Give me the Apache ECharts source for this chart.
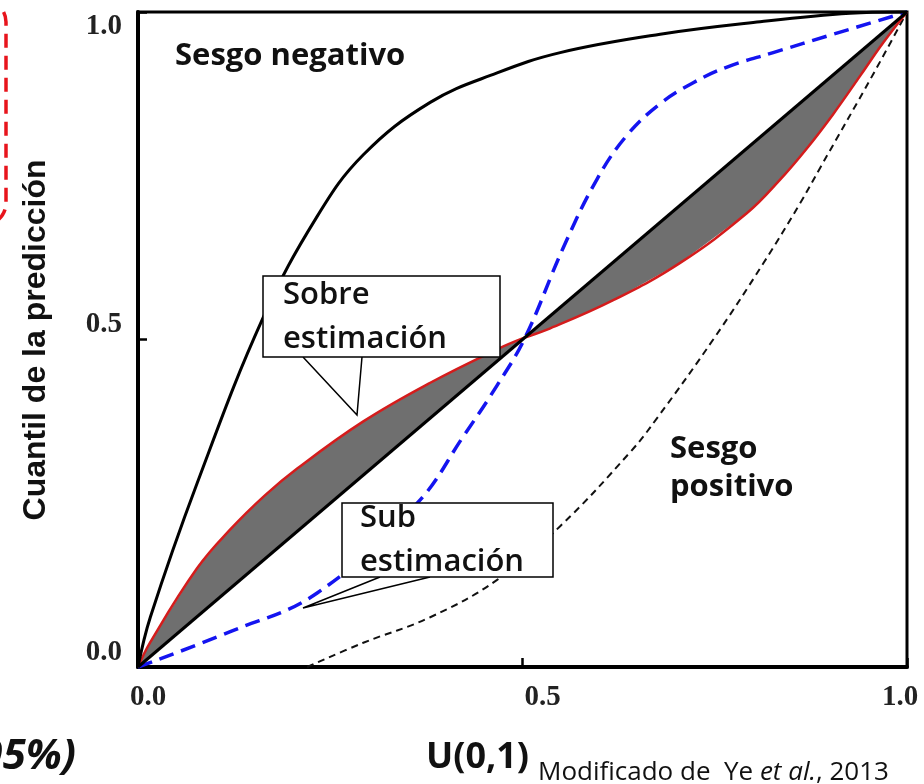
<!DOCTYPE html>
<html><head><meta charset="utf-8">
<script src="https://cdn.jsdelivr.net/npm/echarts@6/dist/echarts.min.js"></script>
<style>html,body{margin:0;padding:0;background:#fff}#c{width:924px;height:784px}</style>
</head><body><div id="c"></div>
<script>
// ---- data ----
const tickValues = [0, 0.5, 1];
const diagX = [0, 1];
const diagY = [0, 1];
// negative skew (solid black, upper curve)
const negX = [0, 0.016, 0.077, 0.163, 0.233, 0.293, 0.38, 0.467, 0.549, 0.679, 0.809, 0.926, 1];
const negY = [0, 0.076, 0.281, 0.534, 0.688, 0.782, 0.862, 0.907, 0.938, 0.966, 0.985, 0.998, 1];
// over / under estimation (red)
const redX = [0, 0.016, 0.077, 0.12, 0.165, 0.207, 0.293, 0.38, 0.467, 0.503, 0.532, 0.618, 0.705, 0.792, 0.835, 0.87, 0.904, 0.94, 0.969, 1];
const redY = [0, 0.038, 0.151, 0.210, 0.262, 0.303, 0.375, 0.434, 0.485, 0.503, 0.515, 0.560, 0.617, 0.693, 0.744, 0.792, 0.844, 0.904, 0.953, 1];
// blue dashed S-curve
const blueX = [0, 0.12, 0.233, 0.363, 0.423, 0.467, 0.503, 0.553, 0.597, 0.636, 0.679, 0.722, 0.766, 0.826, 0.904, 1];
const blueY = [0, 0.054, 0.113, 0.250, 0.352, 0.430, 0.502, 0.640, 0.745, 0.812, 0.860, 0.892, 0.916, 0.938, 0.966, 1];
// positive skew (black dashed)
const posX = [0.22, 0.293, 0.38, 0.467, 0.549, 0.64, 0.675, 0.748, 0.813, 0.861, 0.887, 0.956, 1];
const posY = [0, 0.037, 0.076, 0.133, 0.215, 0.328, 0.380, 0.500, 0.616, 0.708, 0.762, 0.905, 1];

function pairs(xs, ys) { return xs.map((x, i) => [x, ys[i]]); }

// smooth curve drawn by a custom series, positions from the axes' scales (api.coord)
function curve(name, xs, ys, lineStyle, z) {
  return {
    name: name, type: 'custom', data: pairs(xs, ys), z: z, silent: true,
    renderItem: function (params, api) {
      if (params.dataIndex !== 0) return null;
      const pts = xs.map((x, i) => api.coord([x, ys[i]]));
      return { type: 'polyline', shape: { points: pts, smooth: 0.4 },
        style: Object.assign({ fill: null, lineCap: 'butt', lineJoin: 'round' }, lineStyle) };
    }
  };
}

const chart = echarts.init(document.getElementById('c'), null, { renderer: 'canvas' });
const serif = '"Liberation Serif", "Times New Roman", serif';
const sans = '"Open Sans", "Noto Sans", sans-serif';
const arial = '"Liberation Sans", Arial, sans-serif';
const tickFont = { fontFamily: serif, fontWeight: 'bold', fontSize: 29, color: '#222' };

const option = {
  animation: false,
  backgroundColor: '#fff',
  grid: { left: 138, right: 17, top: 12, bottom: 117, show: true, borderColor: '#000', borderWidth: 3, backgroundColor: 'transparent' },
  xAxis: {
    type: 'value', min: 0, max: 1, interval: 0.5,
    splitLine: { show: false },
    axisLine: { show: true, onZero: false, lineStyle: { color: '#000', width: 4 } },
    axisTick: { show: true, inside: true, length: 9, lineStyle: { color: '#000', width: 2.5 } },
    axisLabel: Object.assign({ margin: 16,
      formatter: v => (v === 0 ? '{a|' : v === 1 ? '{c|' : '{b|') + v.toFixed(1) + '}',
      rich: {
        a: Object.assign({ padding: [0, 0, 0, 20] }, tickFont),
        b: Object.assign({ padding: [0, 0, 0, 40] }, tickFont),
        c: Object.assign({ padding: [0, 14, 0, 0] }, tickFont)
      } }, tickFont)
  },
  yAxis: {
    type: 'value', min: 0, max: 1, interval: 0.5,
    splitLine: { show: false },
    axisLine: { show: true, onZero: false, lineStyle: { color: '#000', width: 4 } },
    axisTick: { show: true, inside: true, length: 9, lineStyle: { color: '#000', width: 2.5 } },
    axisLabel: Object.assign({ margin: 16, verticalAlign: 'bottom', verticalAlignMaxLabel: 'top',
      formatter: v => v.toFixed(1) }, tickFont)
  },
  series: [
    { name: 'band', type: 'custom', data: pairs(redX, redY), silent: true, z: 1,
      renderItem: function (params, api) {
        if (params.dataIndex !== 0) return null;
        const upper = redX.map((x, i) => api.coord([x, redY[i]]));
        const lower = redX.slice().reverse().map(x => api.coord([x, x]));
        return { type: 'polygon', shape: { points: upper.concat(lower) },
          style: { fill: '#6f6f6f', stroke: null } };
      } },
    curve('positivo', posX, posY, { stroke: '#111', lineWidth: 2, lineDash: [7, 5] }, 3),
    curve('azul', blueX, blueY, { stroke: '#1414f0', lineWidth: 3.5, lineDash: [15, 8] }, 4),
    curve('rojo', redX, redY, { stroke: '#d41c1c', lineWidth: 2.5 }, 5),
    { name: 'diagonal', type: 'line', data: pairs(diagX, diagY), symbol: 'none',
      lineStyle: { color: '#000', width: 3 }, z: 6 },
    curve('negativo', negX, negY, { stroke: '#000', lineWidth: 3 }, 6)
  ],
  graphic: [
    // Sobre estimación callout
    { type: 'polyline', z: 100, shape: { points: [[303, 357], [357, 415], [362, 357]] },
      style: { stroke: '#000', lineWidth: 1.5, fill: null } },
    { type: 'rect', z: 100, shape: { x: 263, y: 276, width: 237, height: 81 },
      style: { fill: '#fff', stroke: '#000', lineWidth: 1.5 } },
    { type: 'text', z: 101, x: 283, y: 295, style: { text: 'Sobre', font: '600 31px ' + sans, fill: '#111', verticalAlign: 'middle' } },
    { type: 'text', z: 101, x: 283, y: 339, style: { text: 'estimación', font: '600 31px ' + sans, fill: '#111', verticalAlign: 'middle' } },
    // Sub estimación callout
    { type: 'polyline', z: 100, shape: { points: [[380, 577], [303, 608], [430, 577]] },
      style: { stroke: '#000', lineWidth: 1.5, fill: null } },
    { type: 'rect', z: 100, shape: { x: 342, y: 503, width: 211, height: 74 },
      style: { fill: '#fff', stroke: '#000', lineWidth: 1.5 } },
    { type: 'text', z: 101, x: 360, y: 518, style: { text: 'Sub', font: '600 31px ' + sans, fill: '#111', verticalAlign: 'middle' } },
    { type: 'text', z: 101, x: 360, y: 562, style: { text: 'estimación', font: '600 31px ' + sans, fill: '#111', verticalAlign: 'middle' } },
    // curve labels
    { type: 'text', z: 101, x: 175, y: 56, style: { text: 'Sesgo negativo', font: 'bold 31px ' + sans, fill: '#111', verticalAlign: 'middle' } },
    { type: 'text', z: 101, x: 670, y: 449, style: { text: 'Sesgo', font: 'bold 31px ' + sans, fill: '#111', verticalAlign: 'middle' } },
    { type: 'text', z: 101, x: 670, y: 487, style: { text: 'positivo', font: 'bold 31px ' + sans, fill: '#111', verticalAlign: 'middle' } },
    // axis titles
    { type: 'text', z: 101, x: 36, y: 340, rotation: Math.PI / 2,
      style: { text: 'Cuantil de la predicción', font: 'bold 32px ' + arial, fill: '#111', align: 'center', verticalAlign: 'middle' } },
    { type: 'text', z: 101, x: 426, y: 758, style: { text: 'U(0,1)', font: 'bold 36px ' + sans, fill: '#111', verticalAlign: 'middle' } },
    { type: 'text', z: 101, x: 538, y: 773,
      style: { text: '{n|Modificado de  Ye }{i|et al.}{n|, 2013}', verticalAlign: 'middle',
        rich: { n: { font: '26px ' + sans, fill: '#111' }, i: { font: 'italic 26px ' + sans, fill: '#111' } } } },
    // cropped fragments at the left edge
    { type: 'text', z: 101, x: 76, y: 757, style: { text: '(95%)', font: 'italic bold 42px ' + sans, fill: '#111', align: 'right', verticalAlign: 'middle' } },
    { type: 'rect', z: 100, shape: { x: -300, y: 0, width: 306, height: 225, r: 22 },
      style: { fill: null, stroke: '#e8141c', lineWidth: 3.5, lineDash: [14, 8] } }
  ]
};
chart.setOption(option);
</script>
</body></html>
